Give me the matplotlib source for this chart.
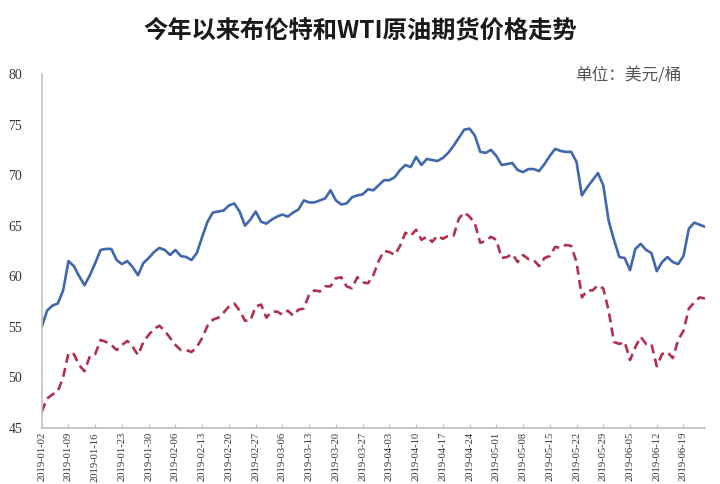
import pandas as pd
import matplotlib
matplotlib.use("Agg")
import matplotlib.pyplot as plt

# 交易日（工作日）区间
START_DATE = "2019-01-02"
N_DAYS = 125
TICK_STEP = 5

# 布伦特原油（美元/桶）
brent = [
    55.0, 56.6, 57.1, 57.3, 58.6, 61.5, 61.0, 60.0, 59.1, 60.1,
    61.3, 62.6, 62.7, 62.7, 61.6, 61.2, 61.5, 60.9, 60.1, 61.3,
    61.8, 62.4, 62.8, 62.6, 62.1, 62.6, 62.0, 61.9, 61.6, 62.3,
    63.9, 65.4, 66.3, 66.4, 66.5, 67.0, 67.2, 66.4, 65.0, 65.6,
    66.4, 65.4, 65.2, 65.6, 65.9, 66.1, 65.9, 66.3, 66.6, 67.5,
    67.3, 67.3, 67.5, 67.7, 68.5, 67.5, 67.1, 67.2, 67.8, 68.0,
    68.1, 68.6, 68.5, 69.0, 69.5, 69.5, 69.8, 70.5, 71.0, 70.8,
    71.8, 71.0, 71.6, 71.5, 71.4, 71.7, 72.2, 72.9, 73.7, 74.5,
    74.6, 73.9, 72.3, 72.2, 72.5, 71.9, 71.0, 71.1, 71.2, 70.5,
    70.3, 70.6, 70.6, 70.4, 71.1, 71.9, 72.6, 72.4, 72.3, 72.3,
    71.3, 68.0, 68.8, 69.5, 70.2, 69.0, 65.5, 63.6, 61.9, 61.8,
    60.6, 62.7, 63.2, 62.6, 62.3, 60.5, 61.4, 61.9, 61.4, 61.2,
    62.0, 64.7, 65.3, 65.1, 64.9,
]

# WTI原油（美元/桶）
wti = [
    46.6, 47.9, 48.3, 48.6, 50.0, 52.4, 52.3, 51.2, 50.6, 52.1,
    52.3, 53.7, 53.5, 53.2, 52.7, 53.2, 53.6, 53.0, 52.2, 53.5,
    54.2, 54.8, 55.1, 54.6, 53.9, 53.2, 52.7, 52.7, 52.5, 53.0,
    53.9, 55.1, 55.7, 55.9, 56.4, 57.0, 57.3, 56.6, 55.6, 55.6,
    57.0, 57.2, 55.9, 56.5, 56.5, 56.2, 56.6, 56.1, 56.7, 56.8,
    58.2, 58.6, 58.5, 59.0, 59.0, 59.8, 59.9, 59.0, 58.8, 59.9,
    59.4, 59.3, 60.1, 61.5, 62.5, 62.4, 62.1, 63.0, 64.3, 64.0,
    64.6, 63.6, 63.9, 63.4, 64.0, 63.7, 64.0, 64.0, 65.7, 66.3,
    65.9, 65.2, 63.3, 63.5, 63.9, 63.6, 61.8, 61.9, 62.2, 61.4,
    62.1, 61.7, 61.6, 61.0, 61.8, 62.0, 62.9, 62.8, 63.1, 63.0,
    61.4, 57.9, 58.6, 58.6, 59.1, 58.8, 56.6, 53.5, 53.3, 53.5,
    51.7, 53.0, 54.0, 53.3, 53.3, 51.1, 52.3, 52.5, 51.9, 53.7,
    54.6, 56.8, 57.4, 57.9, 57.8,
]

y_ticks = [45, 50, 55, 60, 65, 70, 75, 80]

TITLE = "今年以来布伦特和WTI原油期货价格走势"
UNIT = "单位：美元/桶"

dates = pd.bdate_range(START_DATE, periods=N_DAYS)
x = list(range(len(dates)))

fig = plt.figure(figsize=(7.2, 4.84), dpi=100)
ax = fig.add_axes([0.058, 0.116, 0.921, 0.731])

ax.plot(x, brent, color="#3f68ae", lw=1.9, solid_joinstyle="round")
ax.plot(x, wti, color="#b0314f", lw=1.9, dashes=(3.4, 2.0))

ax.set_xlim(0, len(x) - 1)
ax.set_ylim(45, 80)
ax.set_yticks(y_ticks)
ax.set_yticklabels([str(v) for v in y_ticks], family="Liberation Serif",
                   fontsize=10, color="#333333")

# 每5个交易日一个刻度
tick_pos = x[::TICK_STEP]
ax.set_xticks(tick_pos)
ax.set_xticklabels([dates[i].strftime("%Y-%m-%d") for i in tick_pos],
                   rotation=90, family="Liberation Serif", fontsize=7.6,
                   color="#333333")

for side in ["top", "right"]:
    ax.spines[side].set_visible(False)
for side in ["left", "bottom"]:
    ax.spines[side].set_color("#c0c0c0")
    ax.spines[side].set_linewidth(1.2)

ax.tick_params(axis="y", length=0, pad=14)
ax.tick_params(axis="x", direction="in", length=3, color="#c0c0c0", pad=3)

fig.text(0.5, 0.938, TITLE, ha="center", va="center",
         family=["Noto Sans CJK SC", "DejaVu Sans"], fontsize=17.5,
         weight="bold", color="#1a1a1a")
fig.text(0.947, 0.845, UNIT, ha="right", va="center",
         family=["Noto Sans CJK SC", "DejaVu Sans"], fontsize=12,
         color="#555555")

fig.savefig("out.png", dpi=100)
